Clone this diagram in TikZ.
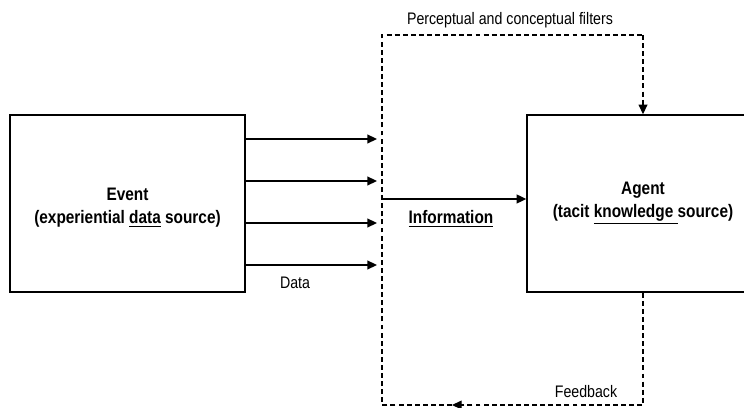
\documentclass[tikz,border=0pt]{standalone}
\usepackage{fontspec}
\setmainfont[FakeStretch=0.85]{Liberation Sans}
\usetikzlibrary{arrows.meta}

\begin{document}
\begin{tikzpicture}[x=0.2mm, y=-0.2mm, >={Triangle[length=5.5pt,width=5pt]}, semithick]
    \tikzset{
        box/.style={draw, line width=0.8pt, align=center, inner sep=0pt, font=\bfseries\fontsize{10.3}{13}\selectfont},
        flow/.style={->, line width=1pt},
        filter/.style={line width=0.7pt, dash pattern=on 2.8pt off 1.8pt},
        lbl/.style={font=\fontsize{9.5}{11}\selectfont}
    }
    \useasboundingbox (0,0) rectangle (744,408);

    % Fuente de datos y agente
    \node[box, minimum width=47mm, minimum height=35.4mm] (event) at (127.5,203.5) {\\[-1pt]Event\\(experiential \underline{data} source)};
    \node[box, minimum width=46.4mm, minimum height=35.4mm] (agent) at (643,203.5) {Agent\\(tacit \underline{knowledge\ }source)};

    % Flechas de datos hacia el filtro
    \foreach \y in {139,181,223,265}
        \draw[flow] (event.east |- 0,\y) -- (377,\y);
    \node[lbl] (data) at (295,283) {Data};

    % Filtros perceptuales y conceptuales (marco discontinuo)
    \coordinate (tl) at (382,35);
    \coordinate (tr) at (643,35);
    \coordinate (br) at (643,405);
    \coordinate (bl) at (382,405);
    \coordinate (fb) at (452,405);
    \node[lbl] (filters) at (510,20) {Perceptual and conceptual filters};
    \draw[filter, ->] (agent.south) -- (br) -- (fb);
    \draw[filter] (fb) -- (bl) -- (tl) -- (tr);
    \draw[filter, ->] (tr) -- (agent.north);
    \node[lbl] (feedback) at (586,392) {Feedback};

    % Informacion hacia el agente
    \coordinate (in) at (382,199);
    \draw[flow] (in) -- (in -| agent.west);
    \node[font=\bfseries\fontsize{10.3}{12}\selectfont] (info) at (451,219) {\underline{Information}};
\end{tikzpicture}
\end{document}
